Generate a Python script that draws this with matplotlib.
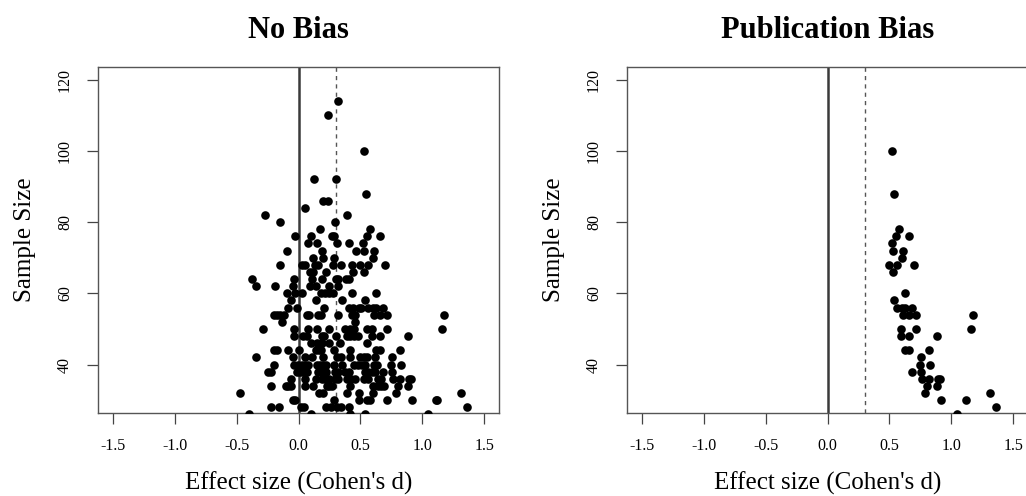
import matplotlib
matplotlib.use("Agg")
import matplotlib.pyplot as plt

plt.rcParams["font.family"] = ["Liberation Serif", "DejaVu Serif"]

# effect sizes per sample size, read off the "No Bias" panel
nobias_rows = {
    114: [0.32],
    110: [0.242],
    100: [0.53],
    92: [0.127, 0.307],
    88: [0.544],
    86: [0.199, 0.24],
    84: [0.054],
    82: [-0.272, 0.39],
    80: [-0.148, 0.296],
    78: [0.17, 0.58],
    76: [-0.027, 0.105, 0.27, 0.288, 0.553, 0.66],
    74: [0.078, 0.148, 0.315, 0.404, 0.518],
    72: [-0.094, 0.188, 0.466, 0.528, 0.612],
    70: [0.121, 0.2, 0.283, 0.604],
    68: [-0.148, 0.032, 0.054, 0.132, 0.159, 0.275, 0.342, 0.436, 0.5, 0.558, 0.695],
    66: [0.094, 0.121, 0.226, 0.444, 0.53],
    64: [-0.372, -0.04, 0.108, 0.188, 0.302, 0.323, 0.382, 0.409],
    62: [-0.345, -0.191, -0.046, 0.094, 0.145, 0.248, 0.32],
    60: [-0.094, -0.03, 0.032, 0.18, 0.213, 0.248, 0.28, 0.436, 0.628],
    58: [-0.062, 0.14, 0.355, 0.537],
    56: [-0.083, -0.013, 0.207, 0.409, 0.444, 0.49, 0.503, 0.563, 0.599, 0.63, 0.685],
    54: [-0.197, -0.175, -0.148, -0.116, 0.065, 0.086, 0.16, 0.18, 0.32, 0.43, 0.46,
         0.612, 0.658, 0.712, 1.178],
    52: [-0.137, 0.46],
    50: [-0.283, -0.04, 0.075, 0.153, 0.248, 0.374, 0.42, 0.45, 0.55, 0.593, 0.714, 1.156],
    48: [-0.035, 0.04, 0.065, 0.186, 0.207, 0.3, 0.39, 0.42, 0.45, 0.48, 0.596, 0.66, 0.887],
    46: [0.105, 0.153, 0.19, 0.248, 0.334, 0.557],
    44: [-0.2, -0.175, -0.083, 0.0, 0.14, 0.167, 0.18, 0.288, 0.417, 0.623, 0.66, 0.822],
    42: [-0.345, -0.048, 0.054, 0.113, 0.2, 0.31, 0.34, 0.42, 0.5, 0.53, 0.557, 0.615, 0.752],
    40: [-0.2, -0.035, -0.008, 0.027, 0.054, 0.078, 0.146, 0.175, 0.194, 0.221, 0.288,
         0.355, 0.452, 0.48, 0.51, 0.536, 0.61, 0.635, 0.747, 0.827],
    38: [-0.25, -0.223, -0.013, 0.013, 0.04, 0.067, 0.159, 0.186, 0.221, 0.296, 0.323,
         0.377, 0.404, 0.538, 0.565, 0.592, 0.619, 0.685, 0.752],
    36: [-0.057, 0.054, 0.14, 0.186, 0.213, 0.248, 0.296, 0.323, 0.395, 0.422, 0.455,
         0.53, 0.562, 0.646, 0.667, 0.766, 0.822, 0.892, 0.913],
    34: [-0.223, -0.102, -0.083, -0.062, 0.054, 0.121, 0.229, 0.248, 0.27, 0.417, 0.6,
         0.64, 0.665, 0.69, 0.806, 0.887],
    32: [-0.474, 0.167, 0.194, 0.39, 0.485, 0.6, 0.784, 1.312],
    30: [-0.048, -0.027, 0.288, 0.49, 0.55, 0.576, 0.714, 0.92, 1.11, 1.122],
    28: [-0.223, -0.156, 0.019, 0.046, 0.221, 0.261, 0.315, 0.342, 0.41, 1.358],
    26: [-0.4, 0.1, 0.42, 0.54, 1.043],
}

# the studies that made it into print
pub_rows = {
    100: [0.523], 88: [0.54], 78: [0.58], 76: [0.553, 0.66], 74: [0.518],
    72: [0.528, 0.612], 70: [0.604], 68: [0.5, 0.558, 0.695], 66: [0.53],
    60: [0.628], 58: [0.537], 56: [0.563, 0.599, 0.63, 0.685],
    54: [0.612, 0.658, 0.712, 1.178], 50: [0.593, 0.714, 1.156],
    48: [0.596, 0.66, 0.887], 44: [0.623, 0.66, 0.822], 42: [0.752],
    40: [0.747, 0.827], 38: [0.685, 0.752], 36: [0.766, 0.822, 0.892, 0.913],
    34: [0.806, 0.887], 32: [0.784, 1.312], 30: [0.92, 1.116], 28: [1.358],
    26: [1.043],
}

true_effect = 0.3
panel_titles = ["No Bias", "Publication Bias"]
x_ticks = [-1.5, -1.0, -0.5, 0.0, 0.5, 1.0, 1.5]
y_ticks = [40, 60, 80, 100, 120]


def flatten(rows):
    d, n = [], []
    for size, effects in rows.items():
        for e in effects:
            d.append(e)
            n.append(size)
    return d, n


fig = plt.figure(figsize=(10.26, 4.96), dpi=100)
W, H = 1026, 496
boxes = [(98, 499), (627, 1028)]
top, bottom = 66.7, 413

for (x0, x1), title, rows in zip(boxes, panel_titles, [nobias_rows, pub_rows]):
    ax = fig.add_axes([x0 / W, 1 - bottom / H, (x1 - x0) / W, (bottom - top) / H])
    d, n = flatten(rows)
    ax.plot(d, n, "o", color="black", markersize=6.2, markeredgewidth=0, zorder=3)
    ax.axvline(0, color="#3a3a3a", lw=1.8, zorder=2)
    ax.axvline(true_effect, color="#555555", lw=1.0, dashes=(3, 3), zorder=2)

    ax.set_xlim(-1.62, 1.62)
    ax.set_ylim(26.4, 123.6)
    ax.set_xticks(x_ticks)
    ax.set_xticklabels([f"{t:.1f}" for t in x_ticks])
    ax.set_yticks(y_ticks)
    ax.set_yticklabels([str(t) for t in y_ticks], rotation=90, va="center")
    ax.tick_params(length=8, width=0.9, color="#444444", labelsize=11.5, pad=10)
    for s in ax.spines.values():
        s.set_color("#555555")
        s.set_linewidth(1.0)

    ax.set_xlabel("Effect size (Cohen's d)", fontsize=18)
    ax.xaxis.label.set_va("center")
    ax.xaxis.set_label_coords(0.5, -0.202)
    ax.set_ylabel("Sample Size", fontsize=18)
    ax.yaxis.label.set_va("center")
    ax.yaxis.set_label_coords(-0.182, 0.5)
    ax.text(0.5, 1.105, title, transform=ax.transAxes, ha="center", va="center",
            fontsize=22, fontweight="bold")

fig.savefig("out.png", dpi=100)
